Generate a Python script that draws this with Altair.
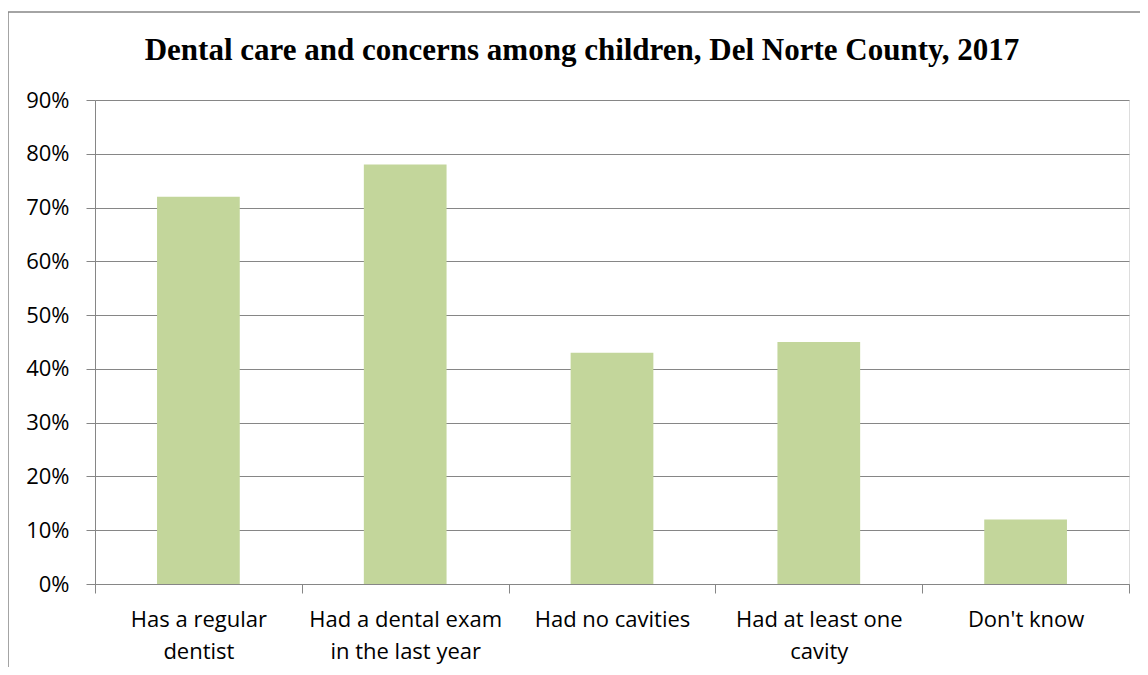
import altair as alt
import pandas as pd

categories = [
    "Has a regular dentist",
    "Had a dental exam in the last year",
    "Had no cavities",
    "Had at least one cavity",
    "Don't know",
]
label_lines = [
    ["Has a regular", "dentist"],
    ["Had a dental exam", "in the last year"],
    ["Had no cavities"],
    ["Had at least one", "cavity"],
    ["Don't know"],
]
values = [0.72, 0.78, 0.43, 0.45, 0.12]
y_ticks = [0, 0.1, 0.2, 0.3, 0.4, 0.5, 0.6, 0.7, 0.8, 0.9]
title_text = "Dental care and concerns among children, Del Norte County, 2017"

df = pd.DataFrame({"category": categories, "value": values})

# build label expression from the label lines
expr = "datum.label"
for cat, lines in reversed(list(zip(categories, label_lines))):
    arr = "[" + ",".join("'" + l.replace("'", "\\'") + "'" for l in lines) + "]"
    expr = f"datum.label == '{cat.replace(chr(39), chr(92) + chr(39))}' ? {arr} : ({expr})"

GRAY = "#868686"
W, H = 1034, 484
FONT = "Open Sans"

bars = alt.Chart(df).mark_bar(
    color="#C3D69B", width=alt.RelativeBandSize(0.4)
).encode(
    x=alt.X(
        "category:N",
        sort=categories,
        scale=alt.Scale(paddingInner=0, paddingOuter=0),
        axis=alt.Axis(
            title=None,
            labelAngle=0,
            labelExpr=expr,
            labelFont=FONT,
            labelFontSize=22,
            labelColor="#000000",
            labelLineHeight=32,
            labelPadding=16,
            labelBaseline="top",
            labelLimit=0,
            tickBand="extent",
            tickSize=9,
            tickColor=GRAY,
            domainColor=GRAY,
            grid=False,
        ),
    ),
    y=alt.Y(
        "value:Q",
        scale=alt.Scale(domain=[0, 0.9], nice=False),
        axis=alt.Axis(
            title=None,
            values=y_ticks,
            format=".0%",
            labelFont=FONT,
            labelFontSize=22,
            labelColor="#000000",
            labelPadding=17,
            tickSize=9,
            tickColor=GRAY,
            domainColor=GRAY,
            grid=True,
            gridColor=GRAY,
            gridWidth=1,
        ),
    ),
)

border = alt.Chart(pd.DataFrame({"a": [0]})).mark_rect(
    fill=None, stroke=GRAY, strokeWidth=1.5
).encode(
    x=alt.value(-87), x2=alt.value(W + 40),
    y=alt.value(-88), y2=alt.value(H + 120),
)

title = alt.Chart(pd.DataFrame({"t": [title_text]})).mark_text(
    font="Liberation Serif", fontSize=31, fontWeight="bold", color="#000000",
    align="center", baseline="alphabetic",
).encode(
    text="t:N", x=alt.value(487), y=alt.value(-40),
)

chart = alt.layer(border, bars, title).properties(
    width=W,
    height=H,
    padding={"left": 87, "top": 92, "right": 11, "bottom": 83},
    autosize="none",
).configure_view(stroke=None).configure(background="white")

chart.save("out.html", embed_options={"renderer": "svg", "actions": False})
